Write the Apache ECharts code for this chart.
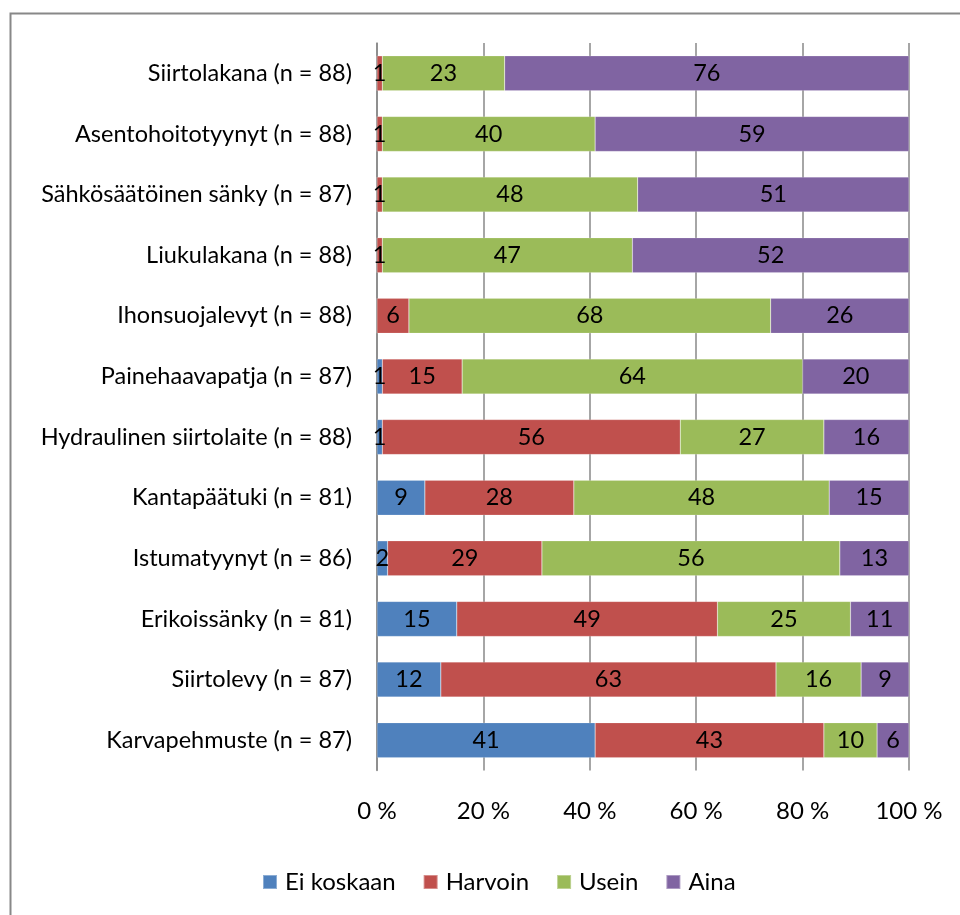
<!DOCTYPE html>
<html><head><meta charset="utf-8">
<script src="https://cdn.jsdelivr.net/npm/echarts@6/dist/echarts.min.js"></script>
<style>html,body{margin:0;padding:0;background:#fff}#c{width:960px;height:915px}</style>
</head><body><div id="c"></div>
<script>
const categories = [
  "Siirtolakana (n = 88)",
  "Asentohoitotyynyt (n = 88)",
  "Sähkösäätöinen sänky (n = 87)",
  "Liukulakana (n = 88)",
  "Ihonsuojalevyt (n = 88)",
  "Painehaavapatja (n = 87)",
  "Hydraulinen siirtolaite (n = 88)",
  "Kantapäätuki (n = 81)",
  "Istumatyynyt (n = 86)",
  "Erikoissänky (n = 81)",
  "Siirtolevy (n = 87)",
  "Karvapehmuste (n = 87)"
];
const eiKoskaan = [0, 0, 0, 0, 0, 1, 1, 9, 2, 15, 12, 41];
const harvoin   = [1, 1, 1, 1, 6, 15, 56, 28, 29, 49, 63, 43];
const usein     = [23, 40, 48, 47, 68, 64, 27, 48, 56, 25, 16, 10];
const aina      = [76, 59, 51, 52, 26, 20, 16, 15, 13, 11, 9, 6];
const seriesNames = ["Ei koskaan", "Harvoin", "Usein", "Aina"];
const colors = ["#4F81BD", "#C0504D", "#9BBB59", "#8064A2"];

const FONT = "Lato";
const FS = 23.5;
const chart = echarts.init(document.getElementById('c'), null, {renderer: 'canvas'});
const mk = (name, data, color) => ({
  name, type: 'bar', stack: 'total', data, barWidth: 35,
  itemStyle: {color, borderColor: 'rgba(255,255,255,0.35)', borderWidth: 0.5},
  label: {show: true, position: 'inside', color: '#000', fontSize: FS, fontFamily: FONT,
    formatter: p => p.value === 0 ? '' : String(p.value)},
  emphasis: {disabled: true}
});
chart.setOption({
  animation: false,
  textStyle: {fontFamily: FONT},
  grid: {left: 377, right: 51, top: 43, bottom: 144.5, containLabel: false},
  xAxis: {
    type: 'value', min: 0, max: 100, interval: 20,
    axisLabel: {formatter: '{value} %', color: '#000', fontSize: 24, fontFamily: FONT, margin: 29},
    axisLine: {show: false}, axisTick: {show: false},
    splitLine: {show: true, lineStyle: {color: '#888', width: 1.5}}
  },
  yAxis: {
    type: 'category', data: categories, inverse: true,
    axisLabel: {color: '#000', fontSize: FS, fontFamily: FONT, margin: 25},
    axisLine: {show: true, lineStyle: {color: '#888', width: 1.5}},
    axisTick: {show: false}
  },
  legend: {
    left: 262, top: 870, padding: 0, itemWidth: 14, itemHeight: 14, itemGap: 27,
    icon: 'rect',
    textStyle: {color: '#000', fontSize: 24, fontFamily: FONT, padding: [0, 0, 0, 3]},
    data: seriesNames
  },
  graphic: [{type: 'rect', shape: {x: 10.5, y: 13.5, width: 1000, height: 1000},
    style: {fill: 'none', stroke: '#888', lineWidth: 2}, silent: true, z: 100}],
  series: [
    mk(seriesNames[0], eiKoskaan, colors[0]),
    mk(seriesNames[1], harvoin, colors[1]),
    mk(seriesNames[2], usein, colors[2]),
    mk(seriesNames[3], aina, colors[3])
  ]
});
</script></body></html>
